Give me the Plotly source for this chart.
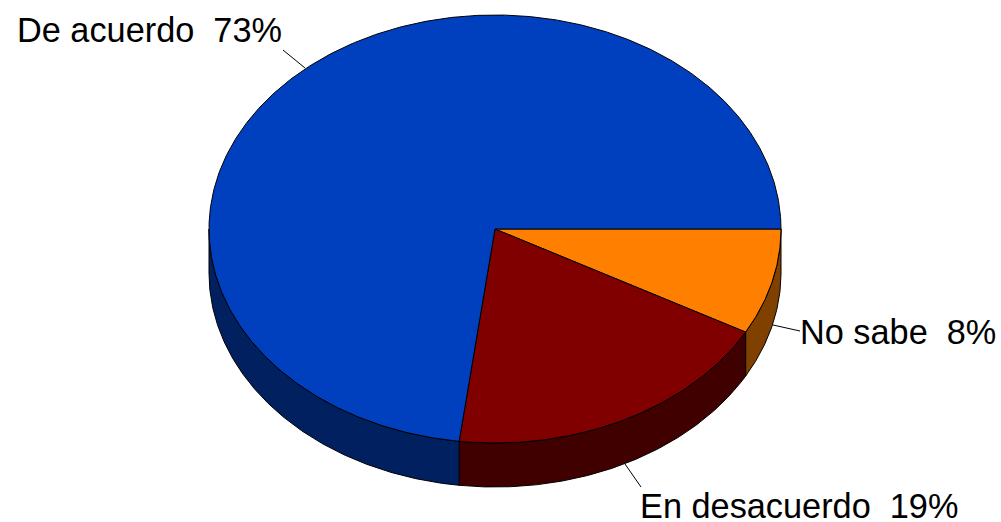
import math
import plotly.graph_objects as go

categories = ["No sabe", "En desacuerdo", "De acuerdo"]
percent = [8, 19, 73]
top_colors = ["#FF8000", "#800000", "#0040BF"]
side_colors = ["#804000", "#400000", "#002060"]

# pixel-space geometry of the tilted pie (axes map 1:1 to the page)
CX, CY, RX, RY, DEPTH = 495, 229, 286, 214, 44
W, H = 1001, 522

label_text = ["No sabe  8%", "En desacuerdo  19%", "De acuerdo  73%"]
label_x = [798, 638, 15]
label_y = [332, 506, 30]
leader_x = [[773, 800], [625, 641], [283, 305]]
leader_y = [[325, 331], [464, 487], [50, 68]]


def arc(a0, a1, dy=0.0, n=None):
    n = n or max(2, int(abs(a1 - a0) * 120))
    xs, ys = [], []
    for i in range(n + 1):
        t = a0 + (a1 - a0) * i / n
        xs.append(CX + RX * math.cos(t))
        ys.append(CY + RY * math.sin(t) + dy)
    return xs, ys


fig = go.Figure()
edge = dict(color="#000000", width=1)

bounds = [0.0]
for p in percent:
    bounds.append(bounds[-1] + p / sum(percent) * 2 * math.pi)

# side walls (only the front half, angles 0..pi)
for i in range(len(percent)):
    a0, a1 = bounds[i], min(bounds[i + 1], math.pi)
    if a0 >= math.pi:
        continue
    xt, yt = arc(a0, a1)
    xb, yb = arc(a1, a0, DEPTH)
    fig.add_trace(go.Scatter(x=xt + xb + xt[:1], y=yt + yb + yt[:1], mode="lines",
                             fill="toself", fillcolor=side_colors[i], line=edge,
                             hoverinfo="skip", showlegend=False))

# top faces
for i in range(len(percent)):
    xa, ya = arc(bounds[i], bounds[i + 1])
    fig.add_trace(go.Scatter(x=[CX] + xa + [CX], y=[CY] + ya + [CY], mode="lines",
                             fill="toself", fillcolor=top_colors[i], line=edge,
                             name=categories[i], hoverinfo="skip", showlegend=False))

# leader lines and labels
for i in range(len(percent)):
    fig.add_trace(go.Scatter(x=leader_x[i], y=leader_y[i], mode="lines",
                             line=dict(color="#000000", width=1),
                             hoverinfo="skip", showlegend=False))
    fig.add_annotation(x=label_x[i], y=label_y[i], text=label_text[i], showarrow=False,
                       xanchor="left", yanchor="middle", xref="x", yref="y",
                       font=dict(family="Liberation Sans", size=34.3, color="#000000"))

fig.update_layout(width=W, height=H, margin=dict(l=0, r=0, t=0, b=0),
                  paper_bgcolor="#FFFFFF", plot_bgcolor="#FFFFFF", showlegend=False)
fig.update_xaxes(range=[0, W], visible=False, fixedrange=True)
fig.update_yaxes(range=[H, 0], visible=False, fixedrange=True)

fig.write_html("out.html", config={"displayModeBar": False},
               post_script="document.body.style.margin='0';document.body.style.overflow='hidden';")
